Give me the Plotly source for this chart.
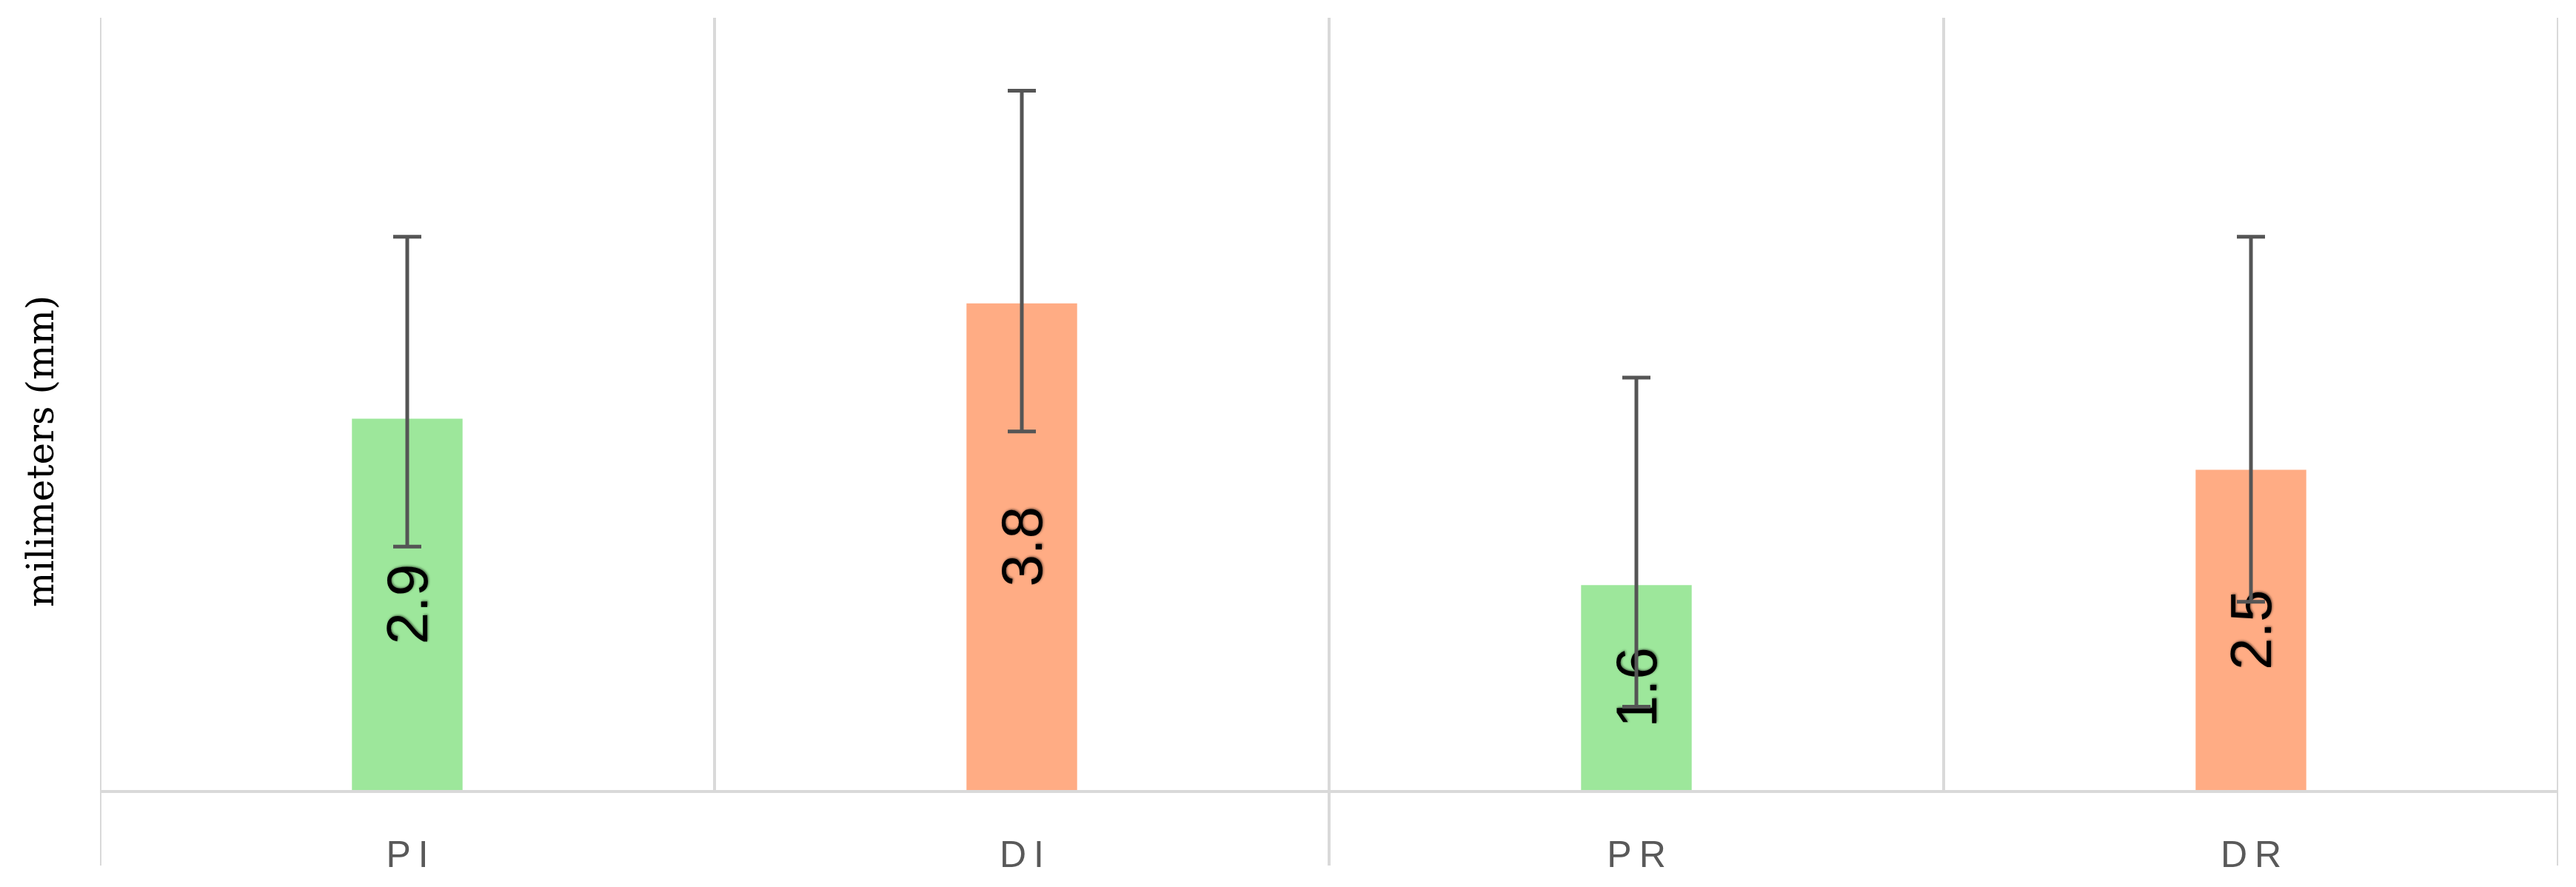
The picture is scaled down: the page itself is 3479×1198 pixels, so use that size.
import plotly.graph_objects as go

categories = ["PI", "DI", "PR", "DR"]
tick_labels = ["P\u2009I", "D\u2009I", "P\u2009R", "D\u2009R"]
values = [2.9, 3.8, 1.6, 2.5]
err_upper = [1.42, 1.66, 1.62, 1.82]
err_lower = [1.0, 1.0, 0.95, 1.03]
bar_colors = ["#9DE79B", "#FFAC84", "#9DE79B", "#FFAC84"]
value_labels = [f"{v:.1f}" for v in values]

# page body has an 8px default margin, so the figure is made 8px smaller
W, H = 3471, 1190
ML, MR, MT, MB = 127, 24, 16, 131
plot_h = H - MT - MB
plot_w = W - ML - MR

fig = go.Figure()
fig.add_trace(go.Bar(
    x=categories,
    y=values,
    width=0.18,
    marker=dict(color=bar_colors, line=dict(width=0)),
    text=value_labels,
    textposition="inside",
    insidetextanchor="middle",
    textangle=-90,
    constraintext="none",
    textfont=dict(family="Liberation Sans, Arial, sans-serif", size=78, color="#000000",
                  shadow="1px 1px 3px rgba(0,0,0,0.55)"),
    error_y=dict(type="data", symmetric=False, array=err_upper, arrayminus=err_lower,
                 color="#555555", thickness=5, width=19),
    hoverinfo="skip",
))

ext = 102 / plot_h
shapes = []
for i, xb in enumerate([-0.5, 0.5, 1.5, 2.5, 3.5]):
    y0 = -ext if i in (0, 2, 4) else 0
    shapes.append(dict(type="line", xref="x", yref="paper", x0=xb, x1=xb, y0=y0, y1=1,
                       line=dict(color="#d9d9d9", width=4), layer="below"))

fig.update_layout(
    width=W, height=H,
    margin=dict(l=ML, r=MR, t=MT, b=MB, pad=0),
    plot_bgcolor="white", paper_bgcolor="white",
    showlegend=False,
    shapes=shapes,
    xaxis=dict(
        tickmode="array", tickvals=categories, ticktext=tick_labels,
        range=[-0.5, 3.5], showgrid=False, ticks="",
        showline=True, linecolor="#d9d9d9", linewidth=4,
        tickfont=dict(family="Liberation Sans, Arial, sans-serif", size=50, color="#595959"),
        ticklabelstandoff=40,
        zeroline=False,
    ),
    yaxis=dict(range=[0, 6.03], showgrid=False, showticklabels=False, ticks="",
               zeroline=False, showline=False),
    annotations=[dict(
        text="milimeters (mm)", xref="paper", yref="paper",
        x=(47 - ML) / plot_w, y=(H - MB - 602) / plot_h,
        xanchor="center", yanchor="middle", textangle=-90, showarrow=False,
        font=dict(family="DejaVu Serif, serif", size=50, color="#000000"),
    )],
)

fig.write_html("out.html")
